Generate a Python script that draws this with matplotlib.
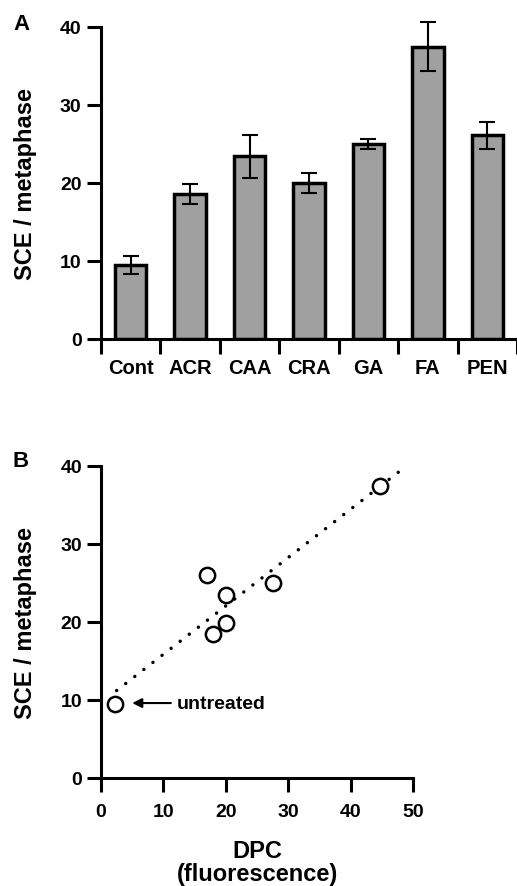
import numpy as np
import matplotlib.pyplot as plt
from matplotlib.ticker import FixedLocator

plt.rcParams['font.family'] = ['Liberation Sans', 'DejaVu Sans']
plt.rcParams['font.weight'] = 'bold'

# panel A data
agents = ['Cont', 'ACR', 'CAA', 'CRA', 'GA', 'FA', 'PEN']
sce = [9.5, 18.6, 23.4, 20.0, 25.0, 37.5, 26.1]
sce_err = [1.2, 1.3, 2.8, 1.3, 0.6, 3.2, 1.7]

# panel B data
dpc = [2.2, 17.0, 20.0, 20.0, 17.9, 27.6, 44.7]
sce_b = [9.5, 26.0, 23.4, 19.9, 18.4, 25.0, 37.4]
fit_x = [2.5, 49.0]
fit_y = [11.2, 40.0]

W, H = 517, 887
fig = plt.figure(figsize=(W / 100, H / 100), dpi=100)

lw = 2.2
ax1 = fig.add_axes([101 / W, 1 - 340 / H, 416 / W, 312 / H])
x = np.arange(len(agents))
ax1.bar(x, sce, width=0.53, color='#a0a0a0', edgecolor='black', linewidth=2.5, zorder=2)
eb = ax1.errorbar(x, sce, yerr=sce_err, fmt='none', ecolor='black', elinewidth=1.5,
                  capsize=6, capthick=1.5, zorder=3)
for art in eb.lines[1] + eb.lines[2]:
    art.set_clip_on(False)
ax1.set_xlim(-0.5, len(agents) - 0.5)
ax1.set_ylim(0, 40)
ax1.set_yticks([0, 10, 20, 30, 40])
ax1.set_xticks(x)
ax1.set_xticklabels(agents)
ax1.xaxis.set_minor_locator(FixedLocator(np.arange(-0.5, len(agents), 1.0)))
ax1.tick_params(axis='x', which='major', length=0, pad=14, labelsize=14.5)
ax1.tick_params(axis='x', which='minor', length=11, width=lw, direction='out')
ax1.tick_params(axis='y', length=10, width=lw, labelsize=14, pad=4)
for s in ['top', 'right']:
    ax1.spines[s].set_visible(False)
for s in ['left', 'bottom']:
    ax1.spines[s].set_linewidth(lw)
ax1.set_ylabel('SCE / metaphase', fontsize=17, fontweight='bold')
ax1.yaxis.set_label_coords(-64 / 416, 0.5)
fig.text(13 / W, 1 - 25 / H, 'A', fontsize=16, fontweight='bold', va='center')

ax2 = fig.add_axes([101 / W, 1 - 779 / H, 312 / W, 312.3 / H])
ax2.plot(fit_x, fit_y, linestyle=(0, (0.01, 3.3)), color='black', linewidth=2.5,
         dash_capstyle='round', zorder=2)
ax2.plot(dpc, sce_b, 'o', markersize=11, markerfacecolor='white',
         markeredgecolor='black', markeredgewidth=1.8, linestyle='none', zorder=3,
         clip_on=False)
ax2.annotate('', xy=(5.0, 9.6), xytext=(11.2, 9.6),
             arrowprops=dict(arrowstyle='-|>', color='black', lw=1.5,
                             mutation_scale=14, shrinkA=0, shrinkB=0))
ax2.text(12.1, 9.6, 'untreated', fontsize=14, fontweight='bold', va='center')
ax2.set_xlim(0, 50)
ax2.set_ylim(0, 40)
ax2.set_xticks([0, 10, 20, 30, 40, 50])
ax2.set_yticks([0, 10, 20, 30, 40])
ax2.tick_params(axis='both', length=10, width=lw, labelsize=14)
ax2.tick_params(axis='x', pad=8)
for s in ['top', 'right']:
    ax2.spines[s].set_visible(False)
for s in ['left', 'bottom']:
    ax2.spines[s].set_linewidth(lw)
ax2.set_ylabel('SCE / metaphase', fontsize=17, fontweight='bold')
ax2.yaxis.set_label_coords(-64 / 312, 0.5)
ax2.set_xlabel('DPC\n(fluorescence)', fontsize=17, fontweight='bold', labelpad=14,
               linespacing=0.95)
fig.text(13 / W, 1 - 462 / H, 'B', fontsize=16, fontweight='bold', va='center')

fig.savefig('out.png', dpi=100)
